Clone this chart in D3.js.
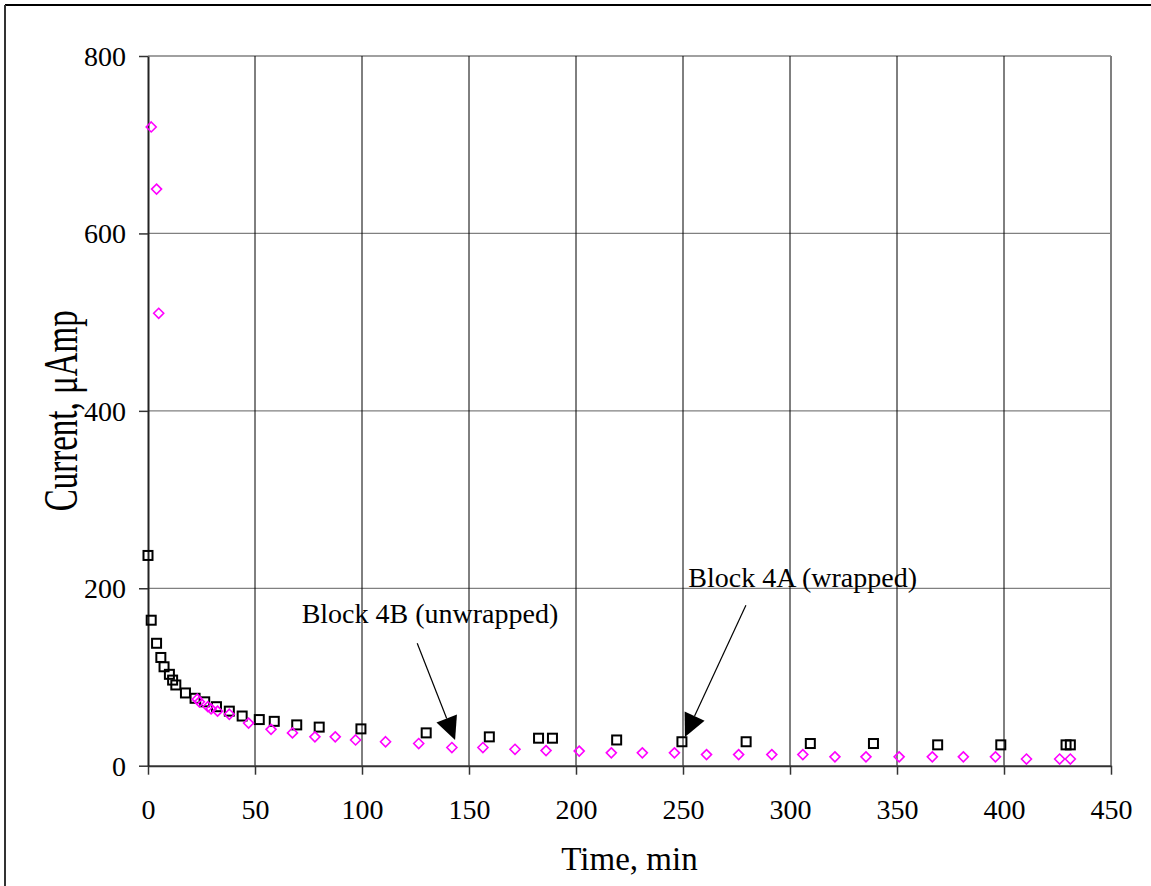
<!DOCTYPE html>
<html>
<head>
<meta charset="utf-8">
<script src="https://cdn.jsdelivr.net/npm/d3@7"></script>
<style>
  html, body { margin: 0; padding: 0; background: #fff; }
  svg { display: block; }
  text { font-family: "Liberation Serif", "DejaVu Serif", serif; fill: #000; }
</style>
</head>
<body>
<svg id="chart" width="1151" height="886"></svg>
<script>
// ---- data ----
const xTicks = [0, 50, 100, 150, 200, 250, 300, 350, 400, 450];
const yTicks = [0, 200, 400, 600, 800];

// Block 4A (wrapped) — squares
const wrappedTime = [0, 1.5, 4, 6, 7.5, 10, 11.5, 13, 17.5, 22, 26.5, 32, 38, 44, 52, 59, 69.5, 80, 99.5, 130, 159.5, 182.5, 189, 219, 249.5, 279.5, 309.5, 339, 369, 398.5, 429, 431];
const wrappedCurrent = [237, 164, 138, 122, 111.5, 103, 96.5, 91, 82, 76, 72, 66.5, 61.5, 56, 52, 50, 46, 43.5, 41.5, 37, 32.5, 31, 31, 29, 27, 27, 25, 25, 23.5, 23.5, 23.5, 23.5];

// Block 4B (unwrapped) — diamonds
const unwrappedTime = [1.5, 4, 5, 23, 24, 28, 29.5, 32.5, 38, 47, 57.5, 67.5, 78, 87.5, 97, 111, 126.5, 142, 156.5, 171.5, 186, 201.5, 216.5, 231, 246, 261, 276, 291.5, 306, 321, 335.5, 351, 366.5, 381, 396, 410.5, 426, 431];
const unwrappedCurrent = [720, 650, 510, 75, 72, 66.5, 64, 61.5, 58, 48, 41, 37, 32.5, 32.5, 29, 27, 25, 20.5, 20.5, 18.5, 17, 16.5, 14.5, 14.5, 14.5, 12.5, 12.5, 12.5, 12.5, 10, 10, 10, 10, 10, 10, 7.5, 7.5, 7.5];

const annotationText = ["Block 4B (unwrapped)", "Block 4A (wrapped)"];
// label anchor and arrow (from -> tip), in data units
const annotationAnchor = [[71.8, 161], [252.5, 202]];
const annotationFrom = [[125.8, 138], [279.4, 181]];
const annotationTip = [[143.5, 29], [250.9, 32.4]];

// ---- layout ----
const svg = d3.select("#chart");
const L = 148, R = 1111, T = 56, B = 765.7;

const x = d3.scaleLinear().domain([0, 450]).range([L, R]);
const y = d3.scaleLinear().domain([0, 800]).range([B, T]);

// outer frame (only top and left visible)
svg.append("line").attr("x1", 5).attr("x2", 1151).attr("y1", 5).attr("y2", 5)
  .attr("stroke", "#000").attr("stroke-width", 2);
svg.append("line").attr("x1", 5).attr("x2", 5).attr("y1", 5).attr("y2", 886)
  .attr("stroke", "#333").attr("stroke-width", 2);

// horizontal gridlines (gray)
svg.append("g").selectAll("line").data(yTicks.filter(d => d > 0)).join("line")
  .attr("x1", L).attr("x2", R)
  .attr("y1", d => y(d)).attr("y2", d => y(d))
  .attr("stroke", "#808080").attr("stroke-width", 1.3);

// vertical gridlines (black)
svg.append("g").selectAll("line").data(xTicks.filter(d => d > 0 && d < 450)).join("line")
  .attr("x1", d => x(d)).attr("x2", d => x(d))
  .attr("y1", T).attr("y2", B)
  .attr("stroke", "#000").attr("stroke-width", 1);

// plot border right (gray)
svg.append("line").attr("x1", R).attr("x2", R).attr("y1", T).attr("y2", B)
  .attr("stroke", "#808080").attr("stroke-width", 2);

// axes
const xAxis = d3.axisBottom(x).tickValues(xTicks).tickSize(9).tickSizeOuter(0).tickPadding(24);
const gx = svg.append("g").attr("transform", `translate(0,${B})`).call(xAxis);
gx.select(".domain").attr("stroke", "#333").attr("stroke-width", 2);
gx.selectAll(".tick line").attr("stroke", "#333").attr("stroke-width", 1.5);
gx.selectAll(".tick text").style("font-family", '"Liberation Serif", serif')
  .style("font-size", "28px").attr("fill", "#000");

const yAxis = d3.axisLeft(y).tickValues(yTicks).tickSize(9).tickSizeOuter(0).tickPadding(13);
const gy = svg.append("g").attr("transform", `translate(${L},0)`).call(yAxis);
gy.select(".domain").attr("stroke", "#222").attr("stroke-width", 2);
gy.selectAll(".tick line").attr("stroke", "#333").attr("stroke-width", 1.5);
gy.selectAll(".tick text").style("font-family", '"Liberation Serif", serif')
  .style("font-size", "28px").attr("fill", "#000").attr("dy", "0.34em");

// axis titles
svg.append("text").attr("x", (L + R) / 2).attr("y", 870)
  .attr("text-anchor", "middle").style("font-size", "33px").text("Time, min");
svg.append("text")
  .attr("transform", `translate(77,${(T + B) / 2}) rotate(-90) scale(1,1.45)`)
  .attr("text-anchor", "middle").style("font-size", "33px").text("Current, μAmp");

// series: squares (Block 4A)
const sq = 9;
svg.append("g").selectAll("rect").data(d3.range(wrappedTime.length)).join("rect")
  .attr("x", i => x(wrappedTime[i]) - sq / 2)
  .attr("y", i => y(wrappedCurrent[i]) - sq / 2)
  .attr("width", sq).attr("height", sq)
  .attr("fill", "none").attr("stroke", "#000").attr("stroke-width", 2);

// series: diamonds (Block 4B)
const dm = 5;
svg.append("g").selectAll("path").data(d3.range(unwrappedTime.length)).join("path")
  .attr("d", i => {
    const cx = x(unwrappedTime[i]), cy = y(unwrappedCurrent[i]);
    return `M${cx},${cy - dm}L${cx + dm},${cy}L${cx},${cy + dm}L${cx - dm},${cy}Z`;
  })
  .attr("fill", "none").attr("stroke", "#FF00FF").attr("stroke-width", 1.6);

// annotations
const ann = svg.append("g");
annotationText.forEach((t, i) => {
  ann.append("text").attr("x", x(annotationAnchor[i][0])).attr("y", y(annotationAnchor[i][1]))
    .style("font-size", "28px").text(t);
  const x0 = x(annotationFrom[i][0]), y0 = y(annotationFrom[i][1]);
  const x1 = x(annotationTip[i][0]), y1 = y(annotationTip[i][1]);
  const dx = x1 - x0, dy = y1 - y0, len = Math.hypot(dx, dy);
  const ux = dx / len, uy = dy / len;
  const hl = 23, hw = 11;
  const bx = x1 - ux * hl, by = y1 - uy * hl;
  ann.append("line").attr("x1", x0).attr("y1", y0).attr("x2", bx).attr("y2", by)
    .attr("stroke", "#000").attr("stroke-width", 1.2);
  ann.append("path")
    .attr("d", `M${x1},${y1}L${bx - uy * hw},${by + ux * hw}L${bx + uy * hw},${by - ux * hw}Z`)
    .attr("fill", "#000");
});
</script>
</body>
</html>
